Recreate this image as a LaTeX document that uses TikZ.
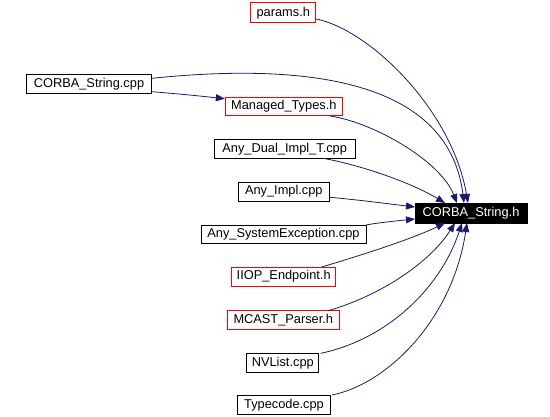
\documentclass[tikz,border=0pt]{standalone}
\usepackage{fontspec}
\setmainfont{Liberation Sans}
\usetikzlibrary{arrows.meta}
\definecolor{edgecol}{HTML}{191970}
\definecolor{redbox}{HTML}{FF0000}
\tikzset{
  filebox/.style={draw=black, line width=0.9pt, inner sep=0pt, font=\fontsize{12.8}{14}\selectfont, text=black},
  hbox/.style={filebox, draw=redbox},
  mainbox/.style={filebox, fill=black, text=white},
  dep/.style={draw=edgecol, line width=0.8pt, -{Triangle[length=9pt,width=7pt]}, fill=none},
}
\begin{document}
\begin{tikzpicture}[x=1pt,y=-1pt]
\useasboundingbox (0,0) rectangle (550,417);
% nodes
\node[hbox, minimum width=65pt, minimum height=20pt] (params) at (283.3,12.9) {params.h};
\node[filebox, minimum width=125pt, minimum height=19pt] (cscpp) at (89,83.8) {CORBA\_String.cpp};
\node[hbox, minimum width=117pt, minimum height=18.5pt] (managed) at (283.8,106.5) {Managed\_Types.h};
\node[filebox, minimum width=141pt, minimum height=19pt] (anydual) at (284.7,148.8) {Any\_Dual\_Impl\_T.cpp};
\node[filebox, minimum width=91pt, minimum height=19pt] (anyimpl) at (283.8,191.6) {Any\_Impl.cpp};
\node[filebox, minimum width=165pt, minimum height=18pt] (anysys) at (283.5,234.3) {Any\_SystemException.cpp};
\node[hbox, minimum width=104pt, minimum height=19pt] (iiop) at (283.7,276.5) {IIOP\_Endpoint.h};
\node[hbox, minimum width=112pt, minimum height=18.6pt] (mcast) at (283.3,320) {MCAST\_Parser.h};
\node[filebox, minimum width=72pt, minimum height=18.7pt] (nvlist) at (282.8,362.7) {NVList.cpp};
\node[filebox, minimum width=93pt, minimum height=19.3pt] (typecode) at (284,404.7) {Typecode.cpp};
\node[mainbox, minimum width=112pt, minimum height=20pt] (cstringh) at (471,213) {CORBA\_String.h};
% anchor coordinates on the target
\coordinate (t1) at (468,203);
\coordinate (t2) at (464,203);
\coordinate (t3) at (457,203);
\coordinate (t4) at (445,203);
\coordinate (t5) at (415,207);
\coordinate (t6) at (415,219);
\coordinate (t7) at (445,223);
\coordinate (t8) at (455,223);
\coordinate (t9) at (462,223);
\coordinate (t10) at (467,223);
% edges
\draw[dep] (params.east |- 0,19) .. controls (370,30) and (452,110) .. (t1);
\draw[dep] (cscpp.east |- 0,78.3) .. controls (330,60) and (450,90) .. (t2);
\draw[dep] (cscpp.east |- 0,91.7) .. controls (180,94) and (200,96) .. (managed.west |- 0,98.7);
\draw[dep] (330,116) .. controls (372,122) and (440,160) .. (t3);
\draw[dep] (323,158.3) .. controls (360,165) and (410,182) .. (t4);
\draw[dep] (anyimpl.east |- 0,197.3) .. controls (360,200) and (390,204) .. (t5);
\draw[dep] (anysys.north east) .. controls (380,222.5) and (400,220.5) .. (t6);
\draw[dep] (321.7,267) .. controls (352,258) and (410,240) .. (t7);
\draw[dep] (328.3,310.7) .. controls (382,295) and (430,262) .. (t8);
\draw[dep] (320.7,353.3) .. controls (385,340) and (440,290) .. (t9);
\draw[dep] (331.7,395) .. controls (385,385) and (452,322) .. (t10);
\end{tikzpicture}
\end{document}
